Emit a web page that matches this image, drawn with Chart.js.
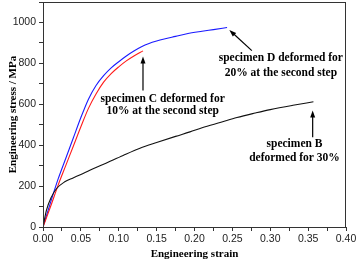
<!DOCTYPE html>
<html>
<head>
<meta charset="utf-8">
<script src="https://cdn.jsdelivr.net/npm/chart.js@4.4.1/dist/chart.umd.min.js"></script>
<style>
  html, body { margin: 0; padding: 0; background: #fff; }
  #wrap { width: 357px; height: 261px; }
</style>
</head>
<body>
<div id="wrap"><canvas id="myChart"></canvas></div>
<script>
// specimen B (black)
const strainB = [0, 0.0045, 0.011, 0.0177, 0.0287, 0.0397, 0.05, 0.0618, 0.08, 0.1058, 0.128, 0.150, 0.175, 0.194, 0.21, 0.235, 0.256, 0.28, 0.30, 0.33, 0.357];
const stressB = [0, 81, 146, 187, 221, 240, 257, 278, 307, 350, 385, 413, 443, 465, 485, 512, 535, 557, 574, 595, 612];
// specimen C (red)
const strainC = [0, 0.01, 0.02, 0.03, 0.04, 0.05, 0.06, 0.07, 0.08, 0.09, 0.10, 0.11, 0.12, 0.132];
const stressC = [0, 100, 205, 300, 395, 490, 580, 650, 708, 750, 783, 812, 836, 861];
// specimen D (blue)
const strainD = [0, 0.01, 0.02, 0.03, 0.04, 0.05, 0.06, 0.07, 0.08, 0.09, 0.10, 0.11, 0.12, 0.13, 0.14, 0.15, 0.16, 0.175, 0.19, 0.21, 0.225, 0.243];
const stressD = [0, 120, 235, 335, 435, 535, 625, 692, 740, 778, 808, 836, 860, 881, 897, 909, 919, 932, 945, 957, 965, 975];

// annotations, in data units (strain, stress)
const notes = [
  { lines: ['specimen D deformed for', '20% at the second step'], x: 0.314, y: [828, 755], from: [0.2757, 862], to: [0.246, 963] },
  { lines: ['specimen C deformed for', '10% at the second step'], x: 0.158, y: [628, 565], from: [0.132, 667], to: [0.132, 833] },
  { lines: ['specimen B', 'deformed for 30%'], x: 0.332, y: [407, 339], from: [0.356, 439], to: [0.356, 569] }
];

function pts(xs, ys) {
  return xs.map((x, i) => ({ x: x, y: ys[i] }));
}

const serif = '"Liberation Serif", "Times New Roman", serif';
const sans = '"Liberation Sans", Arial, sans-serif';

// frame + arrows + labels
const extras = {
  id: 'extras',
  afterDatasetsDraw(chart) {
    const c = chart.ctx;
    const a = chart.chartArea;
    const xs = chart.scales.x, ys = chart.scales.y;
    c.save();
    c.strokeStyle = '#333';
    c.lineWidth = 1;
    c.strokeRect(a.left + 0.5, a.top + 0.5, a.right - a.left - 1, a.bottom - a.top);

    c.fillStyle = '#000';
    c.strokeStyle = '#000';
    c.font = 'bold 11.5px ' + serif;
    c.textAlign = 'center';
    c.textBaseline = 'middle';
    notes.forEach(n => {
      n.lines.forEach((t, i) => {
        c.fillText(t, xs.getPixelForValue(n.x), ys.getPixelForValue(n.y[i]));
      });
      const x1 = xs.getPixelForValue(n.from[0]), y1 = ys.getPixelForValue(n.from[1]);
      const x2 = xs.getPixelForValue(n.to[0]), y2 = ys.getPixelForValue(n.to[1]);
      const ang = Math.atan2(y2 - y1, x2 - x1);
      const hl = 7, hw = 2.5;
      c.lineWidth = 1.2;
      c.beginPath();
      c.moveTo(x1, y1);
      c.lineTo(x2 - Math.cos(ang) * hl * 0.8, y2 - Math.sin(ang) * hl * 0.8);
      c.stroke();
      c.beginPath();
      c.moveTo(x2, y2);
      c.lineTo(x2 - Math.cos(ang) * hl - Math.sin(ang) * hw, y2 - Math.sin(ang) * hl + Math.cos(ang) * hw);
      c.lineTo(x2 - Math.cos(ang) * hl + Math.sin(ang) * hw, y2 - Math.sin(ang) * hl - Math.cos(ang) * hw);
      c.closePath();
      c.fill();
    });
    c.restore();
  }
};

const ctx = document.getElementById('myChart');

new Chart(ctx, {
  type: 'line',
  data: {
    datasets: [
      { label: 'B', data: pts(strainB, stressB), borderColor: '#111', borderWidth: 1.1 },
      { label: 'C', data: pts(strainC, stressC), borderColor: '#ff1a1a', borderWidth: 1.1 },
      { label: 'D', data: pts(strainD, stressD), borderColor: '#1a1aff', borderWidth: 1.1 }
    ]
  },
  options: {
    responsive: true,
    maintainAspectRatio: false,
    animation: false,
    layout: { padding: { top: 2, right: 11, left: 0, bottom: 0 } },
    elements: {
      point: { radius: 0 },
      line: { cubicInterpolationMode: 'monotone', fill: false }
    },
    plugins: {
      legend: { display: false },
      tooltip: { enabled: false }
    },
    scales: {
      x: {
        type: 'linear',
        min: 0,
        max: 0.4,
        afterFit: s => { s.height = 34; s.paddingLeft = 0; s.paddingRight = 0; },
        border: { display: true, color: '#333' },
        grid: { drawOnChartArea: false, tickLength: 4, color: '#333' },
        ticks: {
          stepSize: 0.025,
          autoSkip: false,
          maxRotation: 0,
          padding: 2,
          color: '#222',
          font: { family: sans, size: 10.5 },
          callback: v => (Math.round(v * 1000) % 50 === 0 ? v.toFixed(2) : '')
        },
        title: {
          display: true,
          text: 'Engineering strain',
          color: '#000',
          padding: { top: 4, bottom: 0 },
          font: { family: serif, size: 11, weight: 'bold' }
        }
      },
      y: {
        min: 0,
        max: 1100,
        afterFit: s => { s.width = 43; s.paddingTop = 0; s.paddingBottom = 0; },
        border: { display: true, color: '#333' },
        grid: { drawOnChartArea: false, tickLength: 4, color: '#333' },
        ticks: {
          stepSize: 100,
          autoSkip: false,
          padding: 3,
          color: '#222',
          font: { family: sans, size: 10.5 },
          callback: v => (v % 200 === 0 && v <= 1000 ? String(v) : '')
        },
        title: {
          display: true,
          text: 'Engineering stress / MPa',
          color: '#000',
          padding: { top: 6.5, bottom: 0 },
          font: { family: serif, size: 11, weight: 'bold' }
        }
      }
    }
  },
  plugins: [extras]
});
</script>
</body>
</html>
